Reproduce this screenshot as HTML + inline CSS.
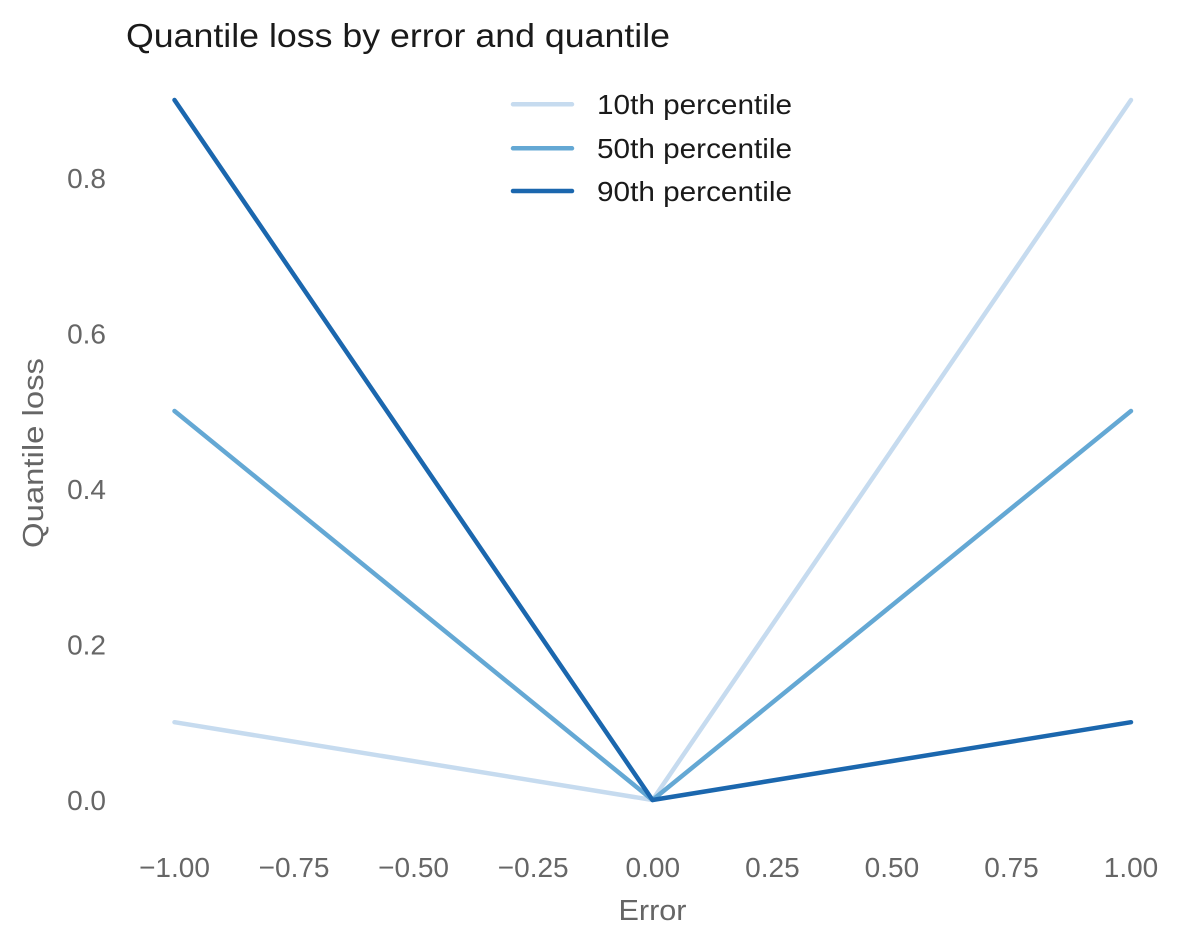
<!DOCTYPE html>
<html>
<head>
<meta charset="utf-8">
<style>
  html, body { margin: 0; padding: 0; background: #ffffff; }
  svg { display: block; }
  text { font-family: "Liberation Sans", "DejaVu Sans", sans-serif; }
</style>
</head>
<body>
<svg width="1200" height="948" viewBox="0 0 1200 948" xmlns="http://www.w3.org/2000/svg">
  <rect width="1200" height="948" fill="#ffffff"/>

  <!-- Title -->
  <text x="126" y="47" font-size="33" fill="#1a1a1a" textLength="544" lengthAdjust="spacingAndGlyphs">Quantile loss by error and quantile</text>

  <!-- Y tick labels -->
  <g font-size="28" fill="#666666" text-anchor="end">
    <text x="106" y="810">0.0</text>
    <text x="106" y="654.4">0.2</text>
    <text x="106" y="498.9">0.4</text>
    <text x="106" y="343.3">0.6</text>
    <text x="106" y="187.8">0.8</text>
  </g>

  <!-- X tick labels -->
  <g font-size="28" fill="#666666" text-anchor="middle">
    <text x="174.5" y="877">−1.00</text>
    <text x="294.1" y="877">−0.75</text>
    <text x="413.6" y="877">−0.50</text>
    <text x="533.2" y="877">−0.25</text>
    <text x="652.8" y="877">0.00</text>
    <text x="772.4" y="877">0.25</text>
    <text x="891.9" y="877">0.50</text>
    <text x="1011.5" y="877">0.75</text>
    <text x="1131" y="877">1.00</text>
  </g>

  <!-- Axis titles -->
  <text x="652.5" y="920" font-size="29" fill="#666666" text-anchor="middle" textLength="68" lengthAdjust="spacingAndGlyphs">Error</text>
  <text transform="translate(43,453) rotate(-90)" x="0" y="0" font-size="29" fill="#666666" text-anchor="middle" textLength="190" lengthAdjust="spacingAndGlyphs">Quantile loss</text>

  <!-- Series -->
  <g fill="none" stroke-width="4.5" stroke-linecap="round" stroke-linejoin="round">
    <polyline points="174.5,722.2 652.5,800 1131,100" stroke="#c6dbef"/>
    <polyline points="174.5,411 652.5,800 1131,411" stroke="#64a8d4"/>
    <polyline points="174.5,100 652.5,800 1131,722.2" stroke="#1b67ae"/>
  </g>

  <!-- Legend -->
  <g stroke-width="4.5" stroke-linecap="round">
    <line x1="513" y1="104.3" x2="572" y2="104.3" stroke="#c6dbef"/>
    <line x1="513" y1="148.3" x2="572" y2="148.3" stroke="#64a8d4"/>
    <line x1="513" y1="191" x2="572" y2="191" stroke="#1b67ae"/>
  </g>
  <g font-size="28" fill="#1a1a1a">
    <text x="597" y="114" textLength="195" lengthAdjust="spacingAndGlyphs">10th percentile</text>
    <text x="597" y="158" textLength="195" lengthAdjust="spacingAndGlyphs">50th percentile</text>
    <text x="597" y="201" textLength="195" lengthAdjust="spacingAndGlyphs">90th percentile</text>
  </g>
</svg>
</body>
</html>
